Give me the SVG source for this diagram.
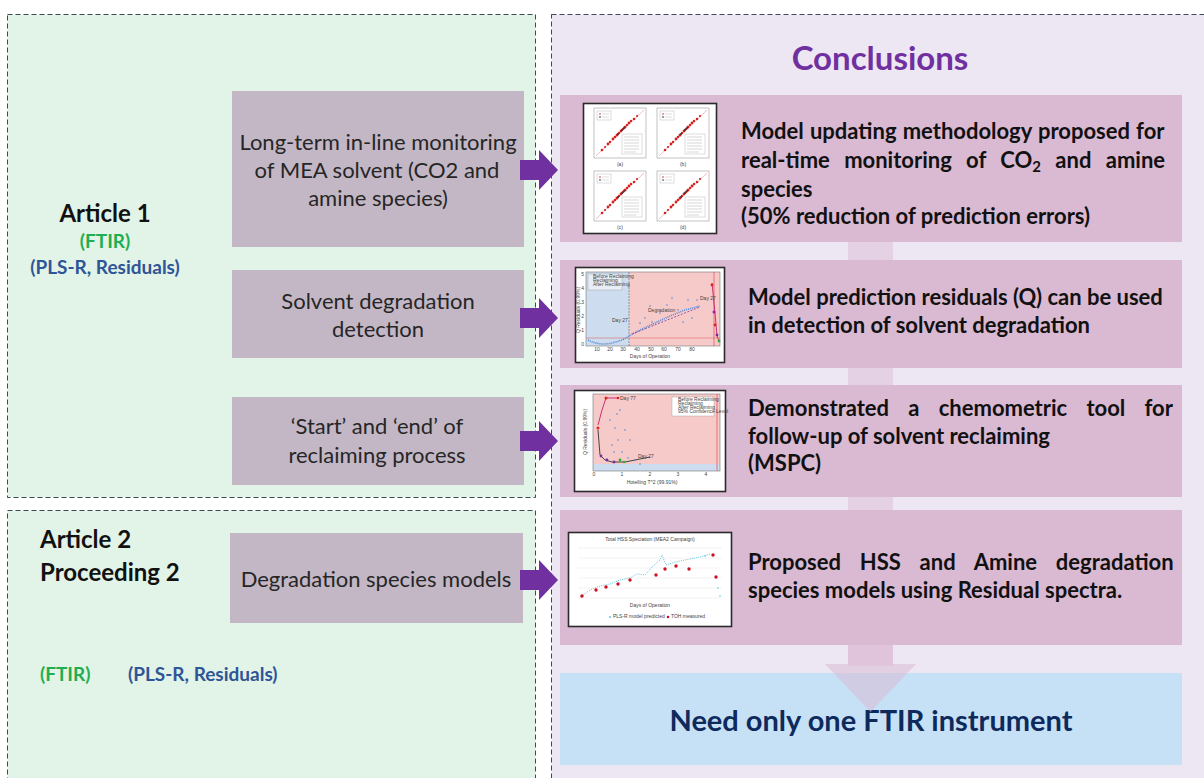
<svg xmlns="http://www.w3.org/2000/svg" width="1204" height="778" viewBox="0 0 1204 778">
<defs>
<style>
.panelL{fill:#e2f3e8;stroke:#3a4a5a;stroke-width:1;stroke-dasharray:5 3}
.panelR{fill:#ede7f3;stroke:#3a4a5a;stroke-width:1;stroke-dasharray:5 3}
.mbox{fill:#c3b7c5}
.pbox{fill:#dab9d3}
.bbox{fill:#c6e1f6}
.lt{font-family:Lato,"Open Sans",sans-serif;font-size:22px;fill:#262626;text-anchor:middle}
.rt{font-family:Lato,"Open Sans",sans-serif;font-size:22px;font-weight:bold;fill:#111}
.hd{font-family:Lato,"Open Sans",sans-serif;font-weight:bold;fill:#111;font-size:24px}
.grn{font-family:Lato,"Open Sans",sans-serif;font-size:19px;font-weight:bold;fill:#1fae52}
.blu{font-family:Lato,"Open Sans",sans-serif;font-size:19px;font-weight:bold;fill:#2f5597}
.arr{fill:#7030a0}
.thumb{fill:#ffffff;stroke:#2a2a2a;stroke-width:1.6}
.tiny{font-family:"Liberation Sans",Arial,sans-serif;font-size:5px;fill:#444}
.ax{fill:none;stroke:#777;stroke-width:0.6}
</style>
<g id="subplot">
<rect x="0" y="0" width="52" height="50" fill="#fff" stroke="#999" stroke-width="0.6"/>
<line x1="2" y1="48" x2="50" y2="2" stroke="#e07a7a" stroke-width="0.5"/>
<rect x="3" y="3" width="14" height="9" fill="#fff" stroke="#aaa" stroke-width="0.4"/>
<circle cx="6" cy="6" r="0.8" fill="#d22"/><circle cx="6" cy="9" r="0.8" fill="#222"/>
<line x1="8" y1="6" x2="15" y2="6" stroke="#aaa" stroke-width="0.4"/><line x1="8" y1="9" x2="15" y2="9" stroke="#aaa" stroke-width="0.4"/>
<g fill="#d62020">
<circle cx="8" cy="42" r="1.3"/><circle cx="11" cy="39" r="1.1"/><circle cx="14" cy="36" r="1.4"/><circle cx="16" cy="34" r="1.2"/>
<circle cx="19" cy="31" r="1.4"/><circle cx="21" cy="29" r="1.3"/><circle cx="23" cy="27" r="1.5"/><circle cx="25" cy="25" r="1.2"/>
<circle cx="27" cy="23" r="1.4"/><circle cx="29" cy="21" r="1.3"/><circle cx="31" cy="19" r="1.5"/><circle cx="33" cy="17" r="1.2"/>
<circle cx="35" cy="15" r="1.4"/><circle cx="37" cy="13" r="1.2"/><circle cx="40" cy="11" r="1.3"/><circle cx="43" cy="8" r="1.1"/>
</g>
<g fill="#333"><circle cx="24" cy="26" r="1"/><circle cx="28" cy="22" r="1"/><circle cx="30" cy="20" r="0.9"/></g>
<rect x="28" y="26" width="20" height="20" fill="#fff" stroke="#aaa" stroke-width="0.4"/>
<g stroke="#999" stroke-width="0.4"><line x1="30" y1="29" x2="45" y2="29"/><line x1="30" y1="32" x2="45" y2="32"/><line x1="30" y1="35" x2="45" y2="35"/><line x1="30" y1="38" x2="45" y2="38"/><line x1="30" y1="41" x2="45" y2="41"/><line x1="30" y1="44" x2="42" y2="44"/></g>
</g>
</defs>

<!-- panels -->
<g id="panel-article1"><rect class="panelL" x="7.5" y="14.5" width="528" height="483"/></g>
<g id="panel-article2"><rect class="panelL" x="7.5" y="510.5" width="528" height="280"/></g>
<g id="panel-conclusions"><rect class="panelR" x="551.5" y="14.5" width="670" height="780"/></g>

<!-- background down arrow (shaft behind boxes) -->
<g id="flow-arrow-back"><rect x="848" y="236" width="45" height="430" fill="#e4d1e4"/></g>

<!-- left labels -->
<g id="label-article1">
<text class="hd" x="105" y="222" text-anchor="middle">Article 1</text>
<text class="grn" x="105" y="248" text-anchor="middle">(FTIR)</text>
<text class="blu" x="105" y="274" text-anchor="middle">(PLS-R, Residuals)</text>
</g>
<g id="label-article2">
<text class="hd" x="40" y="548">Article 2</text>
<text class="hd" x="40" y="581">Proceeding 2</text>
<text class="grn" x="40" y="681">(FTIR)</text>
<text class="blu" x="128" y="681">(PLS-R, Residuals)</text>
</g>

<!-- left boxes -->
<g id="box-monitoring">
<rect class="mbox" x="232" y="91" width="292" height="156"/>
<text class="lt" x="378" y="150">Long-term in-line monitoring</text>
<text class="lt" x="377" y="178">of MEA solvent (CO2 and</text>
<text class="lt" x="378" y="206">amine species)</text>
</g>
<g id="box-degradation">
<rect class="mbox" x="232" y="270" width="292" height="88"/>
<text class="lt" x="378" y="309">Solvent degradation</text>
<text class="lt" x="378" y="337">detection</text>
</g>
<g id="box-reclaiming">
<rect class="mbox" x="232" y="397" width="292" height="88"/>
<text class="lt" x="377" y="434">‘Start’ and ‘end’ of</text>
<text class="lt" x="377" y="463">reclaiming process</text>
</g>
<g id="box-species">
<rect class="mbox" x="230" y="533" width="293" height="90"/>
<text class="lt" x="376" y="587">Degradation species models</text>
</g>

<!-- Conclusions title -->
<g id="title"><text x="880" y="70" font-family="Lato,'Open Sans',sans-serif" font-size="33" font-weight="bold" fill="#7030a0" text-anchor="middle">Conclusions</text></g>

<!-- right boxes -->
<g id="concl-1">
<rect class="pbox" x="560" y="95" width="622" height="147"/>
<rect class="thumb" x="583.5" y="103.5" width="133" height="130"/>
<use href="#subplot" x="594" y="108"/>
<use href="#subplot" x="657" y="108"/>
<use href="#subplot" x="594" y="171"/>
<use href="#subplot" x="657" y="171"/>
<g class="tiny" text-anchor="middle"><text x="620" y="166">(a)</text><text x="683" y="166">(b)</text><text x="620" y="229">(c)</text><text x="683" y="229">(d)</text></g>
<text class="rt" x="741" y="139" style="word-spacing:0.8px">Model updating methodology proposed for</text>
<text class="rt" x="741" y="168" style="word-spacing:9px">real-time monitoring of CO<tspan font-size="15" dy="4">2</tspan><tspan dy="-4"> and amine</tspan></text>
<text class="rt" x="741" y="197">species</text>
<text class="rt" x="741" y="224">(50% reduction of prediction errors)</text>
</g>

<g id="concl-2">
<rect class="pbox" x="560" y="260" width="622" height="108"/>
<rect class="thumb" x="575.5" y="267.5" width="149" height="95"/>
<rect x="586" y="272" width="43" height="74" fill="#cddcee"/>
<rect x="629" y="272" width="91" height="74" fill="#f7caca"/>
<rect x="586" y="272" width="134" height="74" class="ax"/>
<line x1="629" y1="272" x2="629" y2="346" stroke="#666" stroke-width="0.6" stroke-dasharray="2 1"/>
<line x1="586" y1="338" x2="720" y2="338" stroke="#d55" stroke-width="0.5"/>
<line x1="714" y1="272" x2="714" y2="346" stroke="#d33" stroke-width="0.6"/>
<rect x="588" y="274" width="34" height="16" fill="#e8eef6" stroke="#999" stroke-width="0.4"/>
<g class="tiny" font-size="3"><text x="593" y="278">Before Reclaiming</text><text x="593" y="282">Reclaiming</text><text x="593" y="286">After Reclaiming</text></g>
<path d="M588 340 Q600 346 612 343 T629 336 L640 330 L655 323 L670 316 L685 310 L700 306" fill="none" stroke="#4a86d8" stroke-width="1.6" stroke-dasharray="1 1"/>
<g fill="#4a86d8"><circle cx="645" cy="318" r="0.8"/><circle cx="652" cy="322" r="0.8"/><circle cx="660" cy="313" r="0.8"/><circle cx="667" cy="305" r="0.8"/><circle cx="672" cy="298" r="0.8"/><circle cx="678" cy="310" r="0.8"/><circle cx="683" cy="322" r="0.8"/><circle cx="688" cy="300" r="0.8"/><circle cx="692" cy="318" r="0.8"/><circle cx="697" cy="300" r="0.8"/><circle cx="640" cy="323" r="0.8"/><circle cx="650" cy="306" r="0.8"/></g>
<line x1="632" y1="334" x2="700" y2="307" stroke="#7a3a9a" stroke-width="0.8" stroke-dasharray="2 1.5"/>
<path d="M712 283 L715 313 L717 336 L719 341" fill="none" stroke="#c0206a" stroke-width="0.9"/>
<g><circle cx="712" cy="285" r="1.4" fill="#d22"/><circle cx="714" cy="312" r="1.5" fill="#a21caf"/><circle cx="715" cy="325" r="1.4" fill="#d22"/><circle cx="717" cy="335" r="1.4" fill="#7030a0"/><circle cx="719" cy="341" r="1.4" fill="#3a3"/></g>
<g class="tiny" font-size="4"><text x="612" y="322">Day 27</text><text x="648" y="312">Degradation</text><text x="700" y="300">Day 27</text></g>
<g class="tiny" font-size="4" text-anchor="middle"><text x="597" y="351">10</text><text x="610" y="351">20</text><text x="623" y="351">30</text><text x="637" y="351">40</text><text x="651" y="351">50</text><text x="664" y="351">60</text><text x="678" y="351">70</text><text x="692" y="351">80</text><text x="650" y="358">Days of Operation</text></g>
<g class="tiny" font-size="4" text-anchor="end"><text x="584" y="276">5</text><text x="584" y="290">4</text><text x="584" y="304">3</text><text x="584" y="318">2</text><text x="584" y="332">1</text><text x="584" y="346">0</text></g>
<text class="tiny" font-size="4" transform="translate(580 310) rotate(-90)" text-anchor="middle">Q Residuals (0.99%)</text>
<text class="rt" x="748" y="305">Model prediction residuals (Q) can be used</text>
<text class="rt" x="748" y="333">in detection of solvent degradation</text>
</g>

<g id="concl-3">
<rect class="pbox" x="560" y="385" width="622" height="112"/>
<rect class="thumb" x="574.5" y="390.5" width="151" height="101"/>
<rect x="593" y="394" width="127" height="77" fill="#f7caca"/>
<rect x="593" y="464" width="127" height="7" fill="#cddcee"/>
<rect x="593" y="394" width="127" height="77" class="ax"/>
<line x1="717" y1="394" x2="717" y2="471" stroke="#d33" stroke-width="0.6"/>
<rect x="672" y="397" width="42" height="19" fill="#fff" stroke="#999" stroke-width="0.4"/>
<g class="tiny" font-size="3"><text x="678" y="401">Before Reclaiming</text><text x="678" y="405">Reclaiming</text><text x="678" y="409">After Reclaiming</text><text x="678" y="413">95% Confidence Level</text></g>
<path d="M598 425 L602 410 L606 398 L618 398" fill="none" stroke="#c0206a" stroke-width="0.9"/>
<path d="M598 430 L600 455 L605 460 L612 462 L625 462" fill="none" stroke="#333" stroke-width="0.9"/>
<path d="M625 462 L650 457" fill="none" stroke="#333" stroke-width="0.9"/>
<g fill="#d22"><circle cx="598" cy="428" r="1.5"/><circle cx="606" cy="398" r="1.5"/><circle cx="618" cy="398" r="1.3"/></g>
<g fill="#7030a0"><circle cx="601" cy="456" r="1.4"/><circle cx="607" cy="460" r="1.4"/><circle cx="614" cy="462" r="1.4"/></g>
<g fill="#3a3"><circle cx="620" cy="460" r="1.4"/><circle cx="624" cy="462" r="1.3"/></g>
<g fill="#4a86d8"><circle cx="610" cy="420" r="0.8"/><circle cx="615" cy="428" r="0.8"/><circle cx="618" cy="440" r="0.8"/><circle cx="612" cy="445" r="0.8"/><circle cx="620" cy="410" r="0.8"/><circle cx="625" cy="430" r="0.8"/><circle cx="622" cy="452" r="0.8"/><circle cx="630" cy="440" r="0.8"/><circle cx="628" cy="458" r="0.8"/><circle cx="635" cy="460" r="0.8"/><circle cx="640" cy="464" r="0.8"/><circle cx="614" cy="452" r="0.8"/><circle cx="617" cy="414" r="0.8"/></g>
<g class="tiny" font-size="4"><text x="620" y="400">Day 77</text><text x="638" y="458">Day 27</text></g>
<g class="tiny" font-size="4" text-anchor="middle"><text x="594" y="476">0</text><text x="622" y="476">1</text><text x="650" y="476">2</text><text x="678" y="476">3</text><text x="706" y="476">4</text><text x="652" y="484">Hotelling T^2 (99.91%)</text></g>
<text class="tiny" font-size="4" transform="translate(587 432) rotate(-90)" text-anchor="middle">Q Residuals (0.99%)</text>
<text class="rt" x="748" y="416" style="word-spacing:13.9px">Demonstrated a chemometric tool for</text>
<text class="rt" x="748" y="444">follow-up of solvent reclaiming</text>
<text class="rt" x="748" y="471">(MSPC)</text>
</g>

<g id="concl-4">
<rect class="pbox" x="560" y="510" width="622" height="135"/>
<rect class="thumb" x="568.5" y="532.5" width="163" height="94"/>
<text class="tiny" font-size="5" x="650" y="541" text-anchor="middle">Total HSS Speciation (MEA2 Campaign)</text>
<g stroke="#e6e6e6" stroke-width="0.5"><line x1="578" y1="548" x2="722" y2="548"/><line x1="578" y1="558" x2="722" y2="558"/><line x1="578" y1="568" x2="722" y2="568"/><line x1="578" y1="578" x2="722" y2="578"/><line x1="578" y1="588" x2="722" y2="588"/><line x1="578" y1="598" x2="722" y2="598"/></g>
<path d="M580 597 L590 590 L600 586 L610 584 L620 580 L630 578 L637 574 L645 575 L652 567 L660 560 L662 555 L666 565 L672 563 L680 561 L690 559 L700 557 L710 554" fill="none" stroke="#5cc4dc" stroke-width="1" stroke-dasharray="1 1.2"/>
<g fill="#d01020"><circle cx="582" cy="596" r="1.7"/><circle cx="596" cy="590" r="1.7"/><circle cx="606" cy="587" r="1.7"/><circle cx="618" cy="584" r="1.7"/><circle cx="630" cy="580" r="1.7"/><circle cx="656" cy="575" r="1.7"/><circle cx="665" cy="569" r="1.7"/><circle cx="676" cy="566" r="1.7"/><circle cx="689" cy="569" r="1.7"/><circle cx="713" cy="555" r="1.7"/><circle cx="716" cy="577" r="1.7"/></g>
<g fill="#5cc4dc"><circle cx="718" cy="588" r="0.8"/><circle cx="720" cy="596" r="0.8"/><circle cx="705" cy="556" r="0.8"/></g>
<text class="tiny" font-size="3.5" x="650" y="607" text-anchor="middle">Days of Operation</text>
<circle cx="610" cy="617" r="1" fill="#5cc4dc"/><text class="tiny" font-size="3.5" x="613" y="618">PLS-R model predicted</text>
<circle cx="668" cy="617" r="1.3" fill="#d01020"/><text class="tiny" font-size="3.5" x="671" y="618">TOH measured</text>
<text class="rt" x="748" y="570" style="word-spacing:13.4px">Proposed HSS and Amine degradation</text>
<text class="rt" x="748" y="598">species models using Residual spectra.</text>
</g>

<g id="concl-final">
<rect class="bbox" x="560" y="673" width="622" height="92"/>
<text x="871" y="731" font-family="Lato,'Open Sans',sans-serif" font-size="29" font-weight="bold" fill="#0e2a5c" text-anchor="middle">Need only one FTIR instrument</text>
</g>

<!-- connectors -->
<g id="connectors">
<polygon class="arr" points="520,160 539,160 539,150 558,170 539,190 539,180 520,180"/>
<polygon class="arr" points="520,308 539,308 539,298 558,318 539,338 539,328 520,328"/>
<polygon class="arr" points="520,431 539,431 539,421 558,441 539,461 539,451 520,451"/>
<polygon class="arr" points="520,570 539,570 539,560 558,580 539,600 539,590 520,590"/>
<polygon points="848,645 893,645 893,664 916,664 870.5,712 825,664 848,664" fill="#d9b7d2" fill-opacity="0.5"/>
</g>
</svg>
